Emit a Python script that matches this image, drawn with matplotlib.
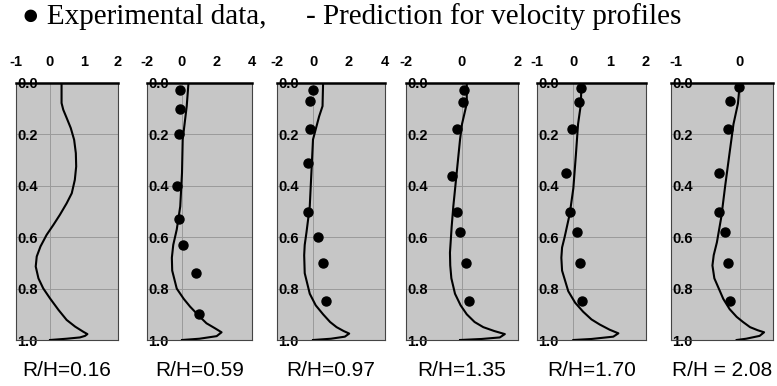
import matplotlib.pyplot as plt

# Perfis de velocidade: linha = previsao, pontos = dados experimentais
# (u, z/H) lidos da figura
labels = ['R/H=0.16', 'R/H=0.59', 'R/H=0.97', 'R/H=1.35', 'R/H=1.70', 'R/H = 2.08']

line1_u = [0.34, 0.34, 0.39, 0.49, 0.61, 0.71, 0.76, 0.77, 0.73, 0.64, 0.49, 0.29, 0.10, -0.10,
           -0.28, -0.39, -0.42, -0.34, -0.20, 0.0, 0.25, 0.49, 0.74, 0.98, 1.10, 1.03, 0.88, 0.49, 0.0]
line1_z = [0.0, 0.078, 0.104, 0.136, 0.175, 0.221, 0.273, 0.325, 0.377, 0.429, 0.468, 0.513, 0.552, 0.591,
           0.636, 0.675, 0.714, 0.76, 0.799, 0.838, 0.883, 0.922, 0.948, 0.968, 0.977, 0.984, 0.99, 0.995, 1.0]

line2_u = [0.37, 0.27, 0.04, 0.0, -0.1, -0.3, -0.5, -0.58, -0.56, -0.3, 0.1, 0.46, 0.95, 1.4, 1.9, 2.26, 1.98, 1.0, 0.0]
line2_z = [0.0, 0.09, 0.22, 0.35, 0.48, 0.57, 0.63, 0.68, 0.73, 0.80, 0.84, 0.87, 0.905, 0.935, 0.955, 0.97, 0.985, 0.995, 1.0]
pts2_u = [-0.1, -0.1, -0.2, -0.3, -0.2, 0.04, 0.8, 0.97]
pts2_z = [0.026, 0.10, 0.20, 0.40, 0.53, 0.63, 0.74, 0.90]

line3_u = [0.56, 0.53, 0.34, 0.0, -0.09, -0.18, -0.36, -0.46, -0.49, -0.46, -0.18, 0.15, 0.56, 0.95,
           1.31, 1.7, 2.01, 1.77, 1.0, 0.0]
line3_z = [0.0, 0.09, 0.13, 0.22, 0.35, 0.48, 0.58, 0.63, 0.67, 0.74, 0.82, 0.865, 0.90, 0.93,
           0.95, 0.965, 0.975, 0.987, 0.995, 1.0]
pts3_u = [0.0, -0.14, -0.18, -0.27, -0.27, 0.29, 0.56, 0.71]
pts3_z = [0.026, 0.07, 0.18, 0.31, 0.50, 0.60, 0.70, 0.85]

line4_u = [0.17, 0.17, 0.0, -0.07, -0.19, -0.31, -0.37, -0.43, -0.42, -0.38, -0.25, -0.05, 0.17,
           0.45, 0.76, 1.15, 1.53, 1.35, 0.7, -0.07]
line4_z = [0.0, 0.08, 0.16, 0.22, 0.35, 0.48, 0.56, 0.66, 0.71, 0.76, 0.82, 0.865, 0.90,
           0.93, 0.95, 0.965, 0.977, 0.99, 0.996, 1.0]
pts4_u = [0.08, 0.02, -0.19, -0.37, -0.19, -0.07, 0.14, 0.26]
pts4_z = [0.026, 0.075, 0.18, 0.36, 0.50, 0.58, 0.70, 0.85]

line5_u = [0.22, 0.21, 0.13, 0.07, 0.0, -0.1, -0.24, -0.31, -0.33, -0.31, -0.14, 0.05, 0.27, 0.50,
           0.73, 1.0, 1.24, 1.10, 0.5, 0.0]
line5_z = [0.0, 0.08, 0.16, 0.28, 0.41, 0.51, 0.60, 0.64, 0.68, 0.73, 0.81, 0.855, 0.89, 0.92,
           0.94, 0.96, 0.974, 0.987, 0.996, 1.0]
pts5_u = [0.21, 0.16, -0.05, -0.19, -0.08, 0.10, 0.18, 0.25]
pts5_z = [0.02, 0.074, 0.18, 0.35, 0.50, 0.58, 0.70, 0.85]

line6_u = [0.0, -0.03, -0.10, -0.16, -0.23, -0.29, -0.36, -0.41, -0.43, -0.40, -0.26, -0.16, -0.05,
           0.05, 0.16, 0.28, 0.38, 0.31, 0.1, -0.05]
line6_z = [0.0, 0.08, 0.16, 0.27, 0.40, 0.52, 0.62, 0.67, 0.71, 0.76, 0.84, 0.88, 0.91,
           0.93, 0.95, 0.962, 0.97, 0.984, 0.995, 1.0]
pts6_u = [-0.01, -0.16, -0.18, -0.33, -0.33, -0.23, -0.18, -0.15]
pts6_z = [0.017, 0.07, 0.18, 0.35, 0.50, 0.58, 0.70, 0.85]

lines = [(line1_u, line1_z), (line2_u, line2_z), (line3_u, line3_z),
         (line4_u, line4_z), (line5_u, line5_z), (line6_u, line6_z)]
points = [None, (pts2_u, pts2_z), (pts3_u, pts3_z),
          (pts4_u, pts4_z), (pts5_u, pts5_z), (pts6_u, pts6_z)]

xlims = [(-1, 2), (-2, 4), (-2, 4), (-2, 2), (-1, 2), (-1.08, 0.52)]
xticks = [[-1, 0, 1, 2], [-2, 0, 2, 4], [-2, 0, 2, 4], [-2, 0, 2], [-1, 0, 1, 2], [-1, 0]]

# posicao dos paineis em pixels (esquerda, direita)
W, H = 777, 386
px = [(16, 118), (147, 252), (277, 385), (406, 518), (537, 646), (671, 773)]
top, bottom = 83, 340

fig = plt.figure(figsize=(W/100, H/100), dpi=100)

for k in range(6):
    l, r = px[k]
    ax = fig.add_axes([l/W, (H - bottom)/H, (r - l)/W, (bottom - top)/H])
    ax.set_facecolor('#c6c6c6')
    ax.set_xlim(xlims[k])
    ax.set_ylim(1.0, 0.0)

    ax.axvline(0, color='#9a9a9a', lw=0.7, zorder=1)
    for yy in [0.2, 0.4, 0.6, 0.8]:
        ax.axhline(yy, color='#9a9a9a', lw=0.7, zorder=1)

    u, z = lines[k]
    ax.plot(u, z, color='black', lw=1.5, zorder=3, solid_joinstyle='round')
    if points[k] is not None:
        pu, pz = points[k]
        ax.plot(pu, pz, 'o', color='black', ms=6.5, zorder=4)

    ax.xaxis.tick_top()
    ax.set_xticks(xticks[k])
    ax.set_xticklabels([str(t) for t in xticks[k]], family='Liberation Sans',
                       weight='bold', fontsize=10.5)
    ax.tick_params(axis='x', length=0, pad=10)

    ax.set_yticks([0.0, 0.2, 0.4, 0.6, 0.8, 1.0])
    ax.set_yticklabels(['0.0', '0.2', '0.4', '0.6', '0.8', '1.0'],
                       family='Liberation Sans', weight='bold', fontsize=10.5,
                       ha='left')
    ax.tick_params(axis='y', length=0, pad=-1)

    for s in ['left', 'right', 'bottom']:
        ax.spines[s].set_linewidth(0.8)
        ax.spines[s].set_color('#444444')
    ax.spines['top'].set_linewidth(1.8)
    ax.spines['top'].set_color('black')

    fig.text((l + r)/2/W, 1 - 370/H, labels[k], family='Liberation Sans',
             fontsize=15, ha='center', va='center')

fig.text(22/W, 1 - 17/H, u'\u25cf Experimental data,', family='Liberation Serif',
         fontsize=21, ha='left', va='center')
fig.text(306/W, 1 - 17/H, '- Prediction for velocity profiles', family='Liberation Serif',
         fontsize=21, ha='left', va='center')

plt.savefig('out.png', dpi=100)
